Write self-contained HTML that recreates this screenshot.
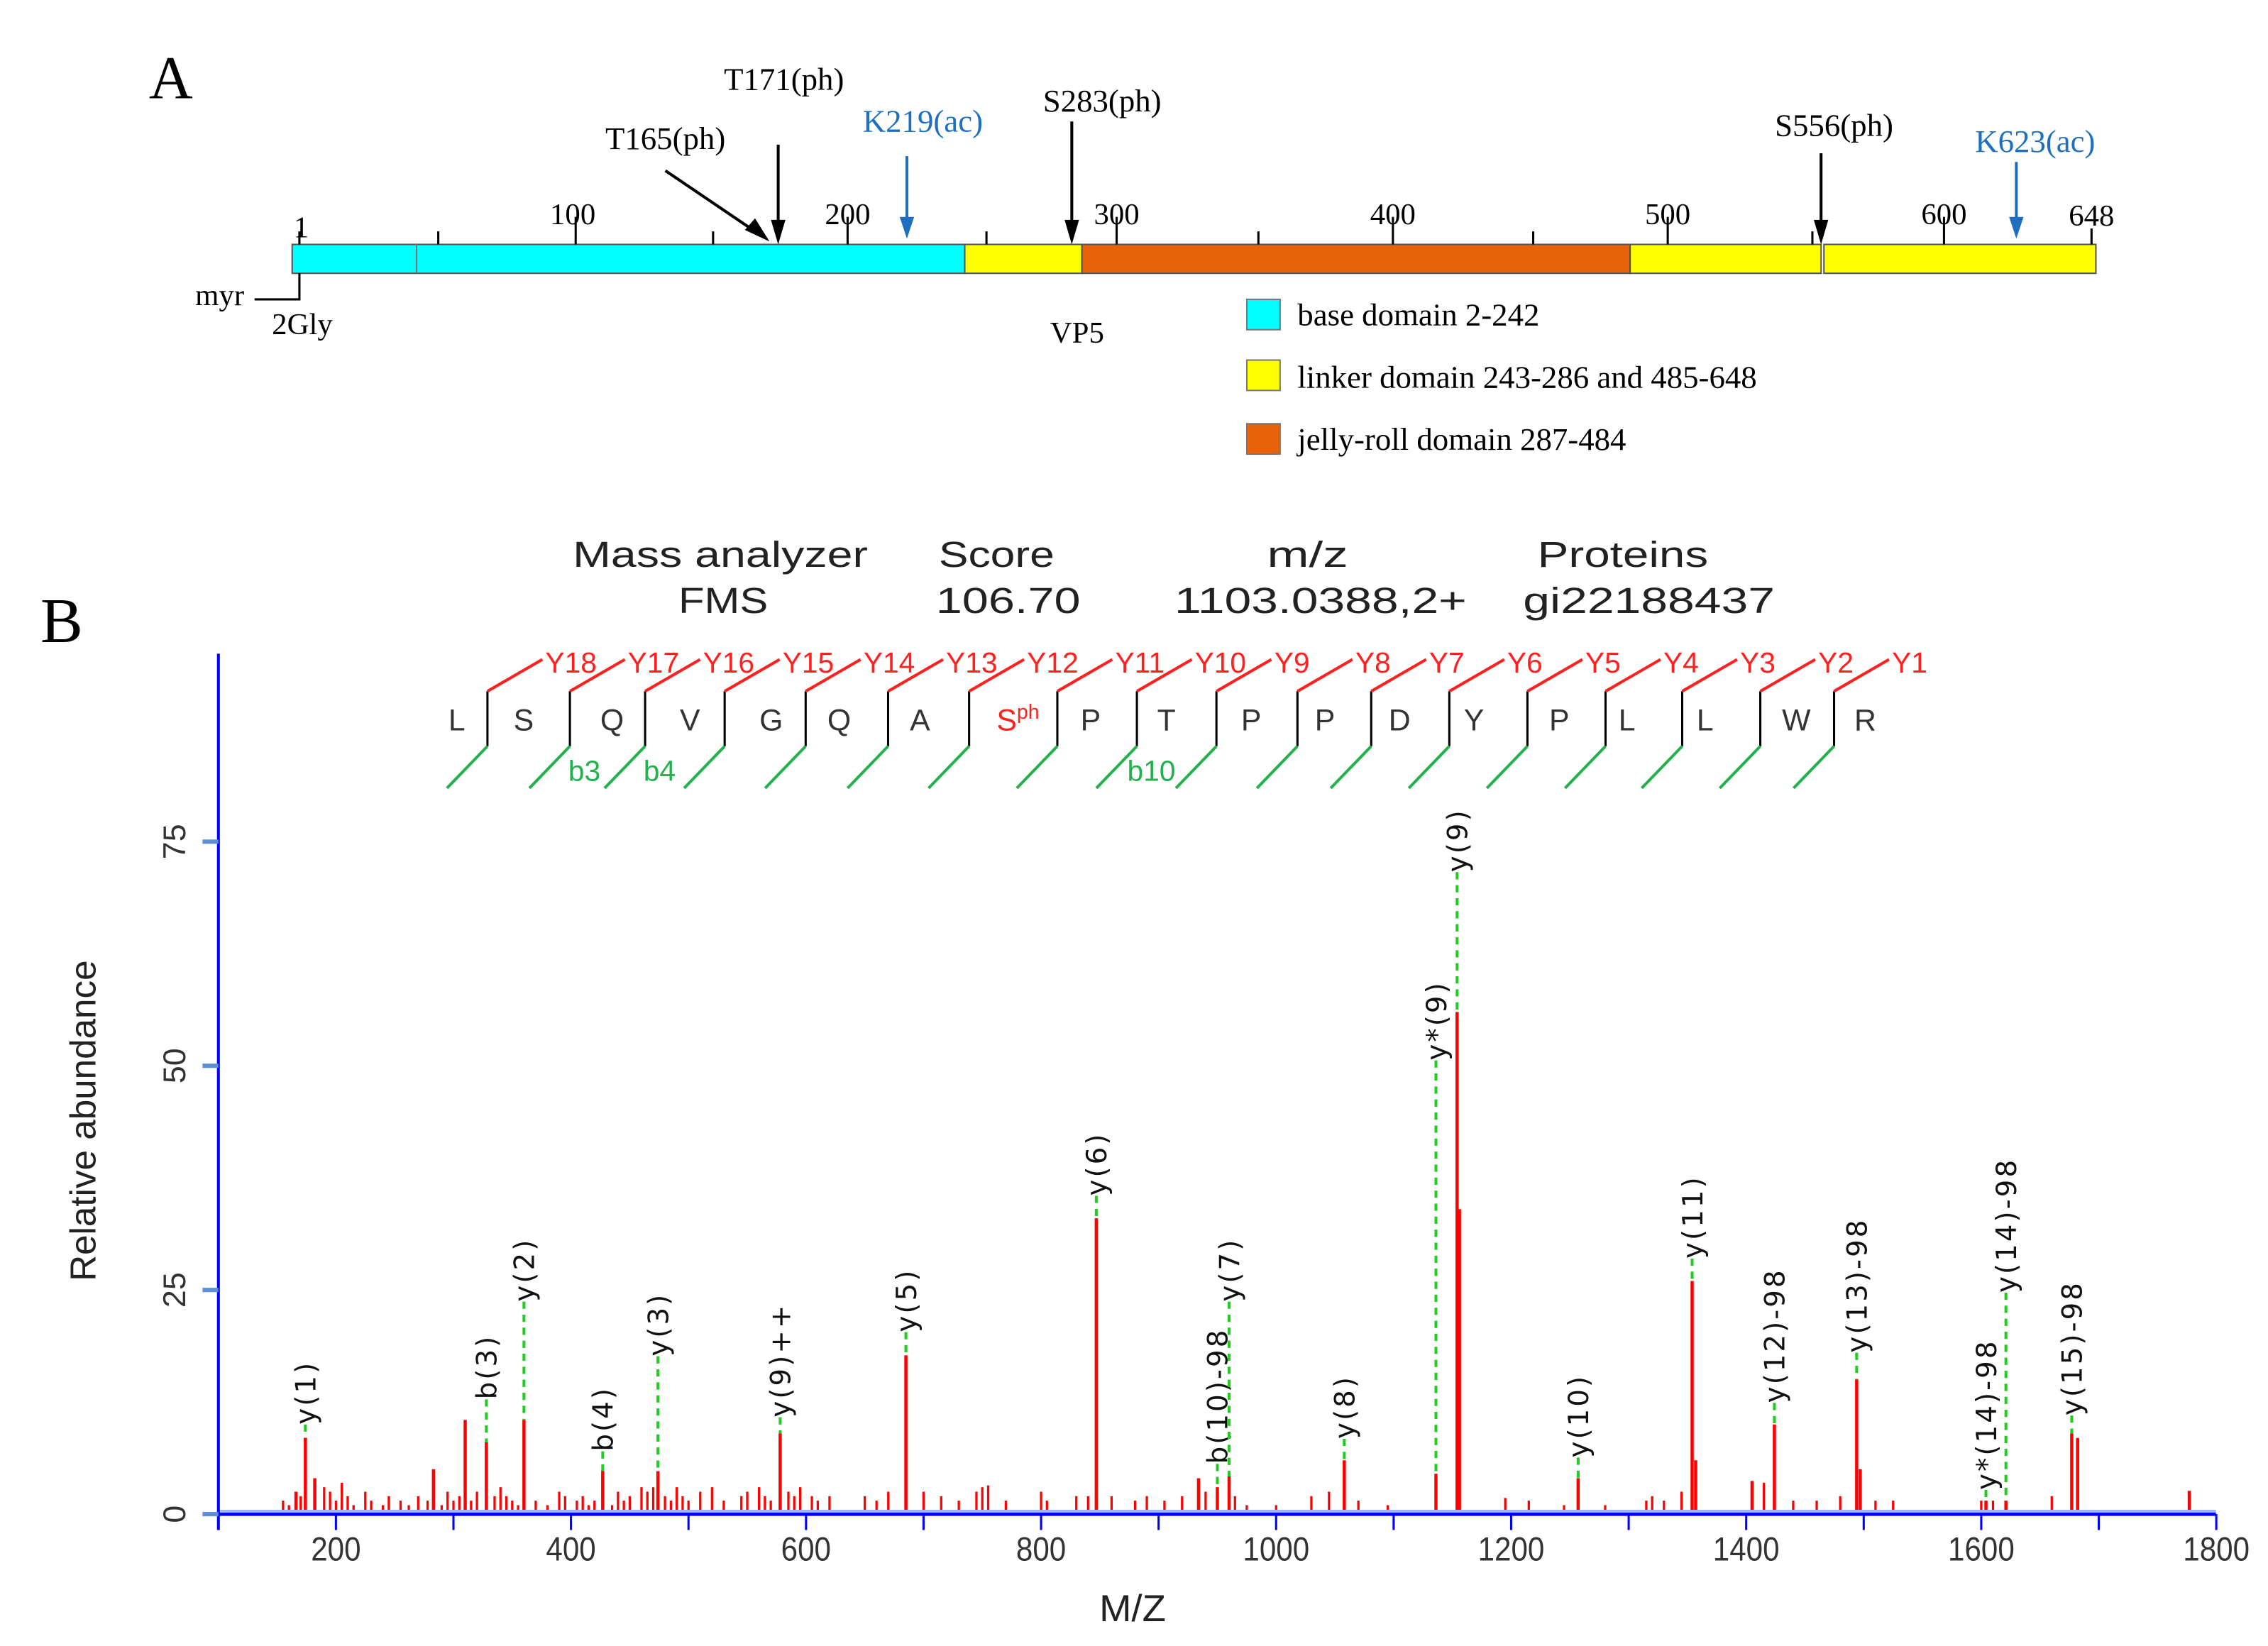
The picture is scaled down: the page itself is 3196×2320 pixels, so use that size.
<!DOCTYPE html>
<html><head><meta charset="utf-8"><style>
html,body{margin:0;padding:0;background:#fff;}
svg{display:block;}
.serif{font-family:"Liberation Serif",serif;}
.sans{font-family:"Liberation Sans",sans-serif;}
</style></head><body>
<svg id="fig" width="3196" height="2320" viewBox="0 0 1568 1138.2" preserveAspectRatio="none" xmlns="http://www.w3.org/2000/svg">
<rect width="1568" height="1139" fill="#fff"/>
<g class="serif">
<text x="103" y="68" font-size="42">A</text>
<g stroke="#555" stroke-width="1">
<rect x="202" y="169" width="465" height="20" fill="#00ffff"/>
<line x1="288" y1="169" x2="288" y2="189" stroke="#777"/>
<rect x="667" y="169" width="81" height="20" fill="#ffff00"/>
<rect x="748" y="169" width="379" height="20" fill="#e8620a"/>
<rect x="1127" y="169" width="132" height="20" fill="#ffff00"/>
<rect x="1261" y="169" width="188" height="20" fill="#ffff00"/>
</g>
<g stroke="#000" stroke-width="1.5">
<line x1="207" y1="160" x2="207" y2="169"/><line x1="303" y1="160" x2="303" y2="169"/><line x1="398" y1="150" x2="398" y2="169"/><line x1="493" y1="160" x2="493" y2="169"/><line x1="586" y1="150" x2="586" y2="169"/><line x1="682" y1="160" x2="682" y2="169"/><line x1="772" y1="150" x2="772" y2="169"/><line x1="870" y1="160" x2="870" y2="169"/><line x1="963" y1="150" x2="963" y2="169"/><line x1="1060" y1="160" x2="1060" y2="169"/><line x1="1153" y1="150" x2="1153" y2="169"/><line x1="1253" y1="160" x2="1253" y2="169"/><line x1="1344" y1="150" x2="1344" y2="169"/><line x1="1446" y1="158" x2="1446" y2="169"/>
</g>
<g font-size="21">
<text x="203" y="164">1</text><text x="396" y="155" text-anchor="middle">100</text><text x="586" y="155" text-anchor="middle">200</text><text x="772" y="155" text-anchor="middle">300</text><text x="963" y="155" text-anchor="middle">400</text><text x="1153" y="155" text-anchor="middle">500</text><text x="1344" y="155" text-anchor="middle">600</text><text x="1446" y="156" text-anchor="middle">648</text>
</g>
<g stroke-width="2">
<line x1="538" y1="100" x2="538" y2="155" stroke="#000"/><path d="M533,152 L543,152 L538,169 Z" fill="#000"/>
<line x1="460" y1="118" x2="522" y2="160" stroke="#000"/><path d="M515,159 L522,151 L532,167 Z" fill="#000"/>
<line x1="627" y1="108" x2="627" y2="153" stroke="#1f6fc0"/><path d="M622,150 L632,150 L627,165 Z" fill="#1f6fc0"/>
<line x1="741" y1="84" x2="741" y2="155" stroke="#000"/><path d="M736,152 L746,152 L741,169 Z" fill="#000"/>
<line x1="1259" y1="106" x2="1259" y2="155" stroke="#000"/><path d="M1254,152 L1264,152 L1259,169 Z" fill="#000"/>
<line x1="1394" y1="112" x2="1394" y2="153" stroke="#1f6fc0"/><path d="M1389,150 L1399,150 L1394,165 Z" fill="#1f6fc0"/>
</g>
<g font-size="22">
<text x="542" y="62" text-anchor="middle">T171(ph)</text>
<text x="460" y="103" text-anchor="middle">T165(ph)</text>
<text x="638" y="91" text-anchor="middle" fill="#1f6fc0">K219(ac)</text>
<text x="762" y="77" text-anchor="middle">S283(ph)</text>
<text x="1268" y="94" text-anchor="middle">S556(ph)</text>
<text x="1407" y="105" text-anchor="middle" fill="#1f6fc0">K623(ac)</text>
</g>
<path d="M176,207 L207,207 L207,189" fill="none" stroke="#000" stroke-width="1.5"/>
<text x="135" y="211" font-size="21">myr</text>
<text x="188" y="231" font-size="21">2Gly</text>
<text x="726" y="237" font-size="21">VP5</text>
<g font-size="22">
<rect x="862" y="207" width="23" height="21" fill="#00ffff" stroke="#777"/>
<text x="897" y="225">base domain 2-242</text>
<rect x="862" y="249" width="23" height="21" fill="#ffff00" stroke="#777"/>
<text x="897" y="268">linker domain 243-286 and 485-648</text>
<rect x="862" y="293" width="23" height="21" fill="#e8620a" stroke="#777"/>
<text x="897" y="311">jelly-roll domain 287-484</text>
</g>
</g>
<g>
<text class="serif" x="28" y="444" font-size="44">B</text>
<g class="sans" font-size="25" fill="#222" text-anchor="middle">
<text x="498" y="392" textLength="204" lengthAdjust="spacingAndGlyphs">Mass analyzer</text><text x="689" y="392" textLength="80" lengthAdjust="spacingAndGlyphs">Score</text><text x="904" y="392" textLength="56" lengthAdjust="spacingAndGlyphs">m/z</text><text x="1122" y="392" textLength="118" lengthAdjust="spacingAndGlyphs">Proteins</text>
<text x="500" y="424" textLength="62" lengthAdjust="spacingAndGlyphs">FMS</text><text x="697" y="424" textLength="100" lengthAdjust="spacingAndGlyphs">106.70</text><text x="913" y="424" textLength="202" lengthAdjust="spacingAndGlyphs">1103.0388,2+</text><text x="1140" y="424" textLength="174" lengthAdjust="spacingAndGlyphs">gi22188437</text>
</g>
<g id="peptide"></g>
<g id="chart"></g>
</g>
</svg>
<script>
// ---- Peptide data ----
const residues = ["L","S","Q","V","G","Q","A","S","P","T","P","P","D","Y","P","L","L","W","R"];
const yIons = ["Y18","Y17","Y16","Y15","Y14","Y13","Y12","Y11","Y10","Y9","Y8","Y7","Y6","Y5","Y4","Y3","Y2","Y1"];
const bIonLabels = ["b3","b4","b10"];
const bIonAfter = [2,3,9];

// ---- Spectrum data ----
const peakMz = [174,182,166,310,328,360,283,427,474,578,685,847,934,960,950,1058,1136,1154,1156,1257,1354,1357,1405,1424,1494,1497,1604,1621,1677,1682,1777];
const peakAbund = [8.5,4,2.5,10.5,8,10.5,5,4.8,4.8,9,17.7,33,4,4.2,3,6,4.5,56,34,4,26,6,3.7,10,15,5,1.5,1.5,9,8.5,2.6];
const noiseMz = [155,160,170,190,195,200,205,210,215,225,230,240,245,255,262,270,278,290,295,300,305,315,320,335,340,345,350,355,370,380,390,395,405,410,415,420,435,440,445,450,460,465,470,480,485,490,495,500,510,520,530,545,550,560,565,570,585,590,595,605,610,620,650,660,670,700,715,730,745,750,755,770,800,805,830,840,860,880,890,905,920,940,965,975,1000,1030,1045,1070,1095,1195,1215,1245,1280,1315,1320,1330,1345,1415,1440,1460,1480,1510,1525,1600,1610,1660];
const noiseAbund = [1.5,1,2,3,2.5,1.5,3.5,2,1,2.5,1.5,1,2,1.5,1,2,1.5,1,2.5,1.5,2,1.5,2.5,2,3,2,1.5,1,1.5,1,2.5,2,1.5,2,1,1.5,1,2.5,1.5,2,3,2.5,3,2,1.5,3,2,1.5,2.5,3,1.5,2,2.5,3,2,1.5,2.5,2,3,2,1.5,2,2,1.5,2.5,2.5,2,1.5,2.5,3,3.2,1.5,2.5,1.5,2,2,2,1.5,2,1.5,2,2.5,2,1,1,2,2.5,1.5,1,1.8,1.5,1,1,1.5,2,1.5,2.5,3.5,1.5,1.5,2,1.5,1.5,1.5,1.5,2];
const annMz = [174,328,360,427,474,578,685,847,950,960,1058,1136,1154,1257,1354,1424,1494,1604,1621,1677];
const annText = ["y(1)","b(3)","y(2)","b(4)","y(3)","y(9)++","y(5)","y(6)","b(10)-98","y(7)","y(8)","y*(9)","y(9)","y(10)","y(11)","y(12)-98","y(13)-98","y*(14)-98","y(14)-98","y(15)-98"];
const annLevel = [10,12.8,23.7,7,17.6,10.8,20.3,35.5,5.6,23.7,8.4,50.6,71.6,6.3,28.5,12.4,18,2.7,24.7,11];
const annPeakTop = [8.5,8,10.5,4.8,4.8,9,17.7,33,3,4.2,6,4.5,56,4,26,10,15,1.5,1.5,9];
const xTicks = [200,400,600,800,1000,1200,1400,1600,1800];
const yTicks = [0,25,50,75];

const NS="http://www.w3.org/2000/svg";
function mk(tag, attrs, parent){const e=document.createElementNS(NS,tag);for(const k in attrs)e.setAttribute(k,attrs[k]);parent.appendChild(e);return e;}

const X0=151, Y0=1047;
const xS = mz => X0 + (mz-100)*0.8125;
const yS = v => Y0 - v*6.2;

// peptide
const pep=document.getElementById('peptide');
const letterX = [318,363,423,478,533,580,637,697,755,808,866,917,968,1020,1079,1127,1181,1240,1290];
const sepX = [337,394,446,501,557,614,670,731,786,841,897,948,1002,1056,1110,1163,1217,1268];
residues.forEach((r,i)=>{
  const t=mk('text',{x:letterX[i]-8,y:505,'font-size':21,'font-family':'"Liberation Sans",sans-serif',fill:i===7?'#ff2020':'#333'},pep);
  
  
  t.textContent=r;
  if(i===7){const s=mk('tspan',{'font-size':14,dy:-8},t);s.textContent='ph';}
});
yIons.forEach((lab,i)=>{
  const sx=sepX[i];
  const g=mk('g',{},pep);
  
  
  mk('line',{x1:sx,y1:478,x2:sx,y2:516,stroke:'#000','stroke-width':1.5},g);
  mk('line',{x1:sx,y1:478,x2:sx+38,y2:456,stroke:'#ff2020','stroke-width':2},g);
  mk('line',{x1:sx,y1:516,x2:sx-28,y2:545,stroke:'#22b14c','stroke-width':2},g);
  const t=mk('text',{x:sx+40,y:465,'font-size':20,'font-family':'"Liberation Sans",sans-serif',fill:'#ff2020'},g);
  
  
  t.textContent=lab;
});
bIonLabels.forEach((lab,k)=>{
  const sx=sepX[bIonAfter[k]-1];
  const t=mk('text',{x:sx+10,y:540,'font-size':20,'font-family':'"Liberation Sans",sans-serif',fill:'#22b14c','text-anchor':'middle'},pep);
  
  
  t.textContent=lab;
});

// chart
const ch=document.getElementById('chart');
noiseMz.forEach((m,i)=>{
  const l=mk('line',{x1:xS(m),x2:xS(m),y1:Y0,y2:yS(noiseAbund[i]),stroke:'#ff0000','stroke-width':1.6},ch);
  
  
});
peakMz.forEach((m,i)=>{
  const l=mk('line',{x1:xS(m),x2:xS(m),y1:Y0,y2:yS(peakAbund[i]),stroke:'#ff0000','stroke-width':2.2},ch);
  
  
});
annMz.forEach((m,i)=>{
  const x=xS(m), yl=yS(annLevel[i]), yp=yS(annPeakTop[i]);
  const d=mk('line',{x1:x,x2:x,y1:yl,y2:yp,stroke:'#22cc22','stroke-width':2,'stroke-dasharray':'5,4'},ch);
  
  
  const t=mk('text',{x:0,y:0,transform:`translate(${x+7},${yl}) rotate(-90)`,'font-size':19,'letter-spacing':1.5,'font-family':'"DejaVu Sans",sans-serif',fill:'#111'},ch);
  
  
  t.textContent=annText[i];
});
const xa=mk('line',{x1:X0,x2:1532,y1:Y0,y2:Y0,stroke:'#0000ff','stroke-width':2.5},ch);


mk('line',{x1:X0,x2:1532,y1:Y0-2,y2:Y0-2,stroke:'#9db7f0','stroke-width':2},ch);
const ya=mk('line',{x1:X0,x2:X0,y1:452,y2:1058,stroke:'#0000ff','stroke-width':2},ch);


for(let v=100; v<=1800; v+=100){
  mk('line',{x1:xS(v),x2:xS(v),y1:Y0,y2:Y0+11,stroke:'#0000ff','stroke-width':1.5},ch);
}
xTicks.forEach(v=>{
  const t=mk('text',{x:xS(v),y:1079,'text-anchor':'middle','font-size':23,'font-family':'"Liberation Sans",sans-serif',fill:'#333',textLength:String(v).length*11.5,lengthAdjust:'spacingAndGlyphs'},ch);
  
  
  t.textContent=v;
});
yTicks.forEach(v=>{
  mk('line',{x1:X0-11,x2:X0,y1:yS(v),y2:yS(v),stroke:'#5b8fd8','stroke-width':3},ch);
  const t=mk('text',{x:0,y:0,transform:`translate(128,${yS(v)}) rotate(-90)`,'text-anchor':'middle','font-size':22,'font-family':'"Liberation Sans",sans-serif',fill:'#333'},ch);
  
  
  t.textContent=v;
});
const yt=mk('text',{x:0,y:0,transform:'translate(66,775) rotate(-90)','text-anchor':'middle','font-size':25,'font-family':'"Liberation Sans",sans-serif',fill:'#222',textLength:222,lengthAdjust:'spacingAndGlyphs'},ch);


yt.textContent='Relative abundance';
const xt=mk('text',{x:783,y:1121,'text-anchor':'middle','font-size':26,'font-family':'"Liberation Sans",sans-serif',fill:'#222',textLength:46,lengthAdjust:'spacingAndGlyphs'},ch);


xt.textContent='M/Z';
</script>
</body></html>
